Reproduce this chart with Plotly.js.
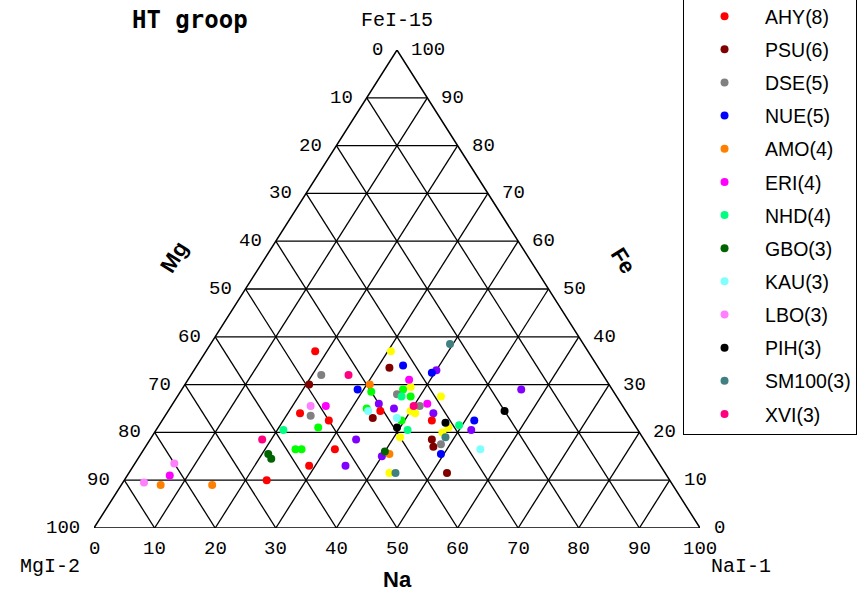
<!DOCTYPE html>
<html>
<head>
<meta charset="utf-8">
<script src="https://cdn.plot.ly/plotly-3.0.1.min.js"></script>
<style>
  html, body { margin: 0; padding: 0; background: #ffffff; }
  #chart { width: 865px; height: 592px; }
</style>
</head>
<body>
<div id="chart"></div>
<script>
// Sample compositions in percent, each pair is [Na, Fe]; Mg = 100 - Na - Fe.
const AHY   = [[18,37],[22,24],[27.5,22.5],[31.5,16.5],[29,13],[23.5,10],[35,24.5],[44.5,22.5]];
const PSU   = [[20.5,30],[32,33.5],[34.5,23],[46.5,18.5],[47.5,17],[52.5,11.5]];
const DSE   = [[21.5,32],[24,23.5],[36,28],[41,25.5],[48.5,17.5]];
const NUE   = [[34,34],[29,29],[39.5,32.5],[51.5,22.5],[49.5,15.5]];
const AMO   = [[30.5,30],[41,15.5],[6.5,9],[15,9]];
const ERI   = [[25.5,25.5],[36.5,31],[42,26],[7,11]];
const NHD   = [[21,20.5],[37,27.5],[41.5,20.5],[49.5,21.5]];
const GBO   = [[21,15.5],[22,14.5],[40,16]];
const KAU   = [[33,24.5],[38.5,23],[55.5,16.5]];
const LBO   = [[23,25.5],[6.5,13.5],[3.5,9.5]];
const PIH   = [[39.5,21],[47,22],[55.5,24.5]];
const SM100 = [[39.5,38.5],[48.5,19],[44,11.5]];
const XVI   = [[26,32],[18.5,18.5],[40,25.5]];
// further groups whose legend entries sit above the visible frame
const GRP_Y = [[30.5,37],[37.5,29.5],[40,24.5],[41,24],[43.5,27.5],[48,21],[47.5,20],[41,19],[43,11.5]];
const GRP_P = [[34,18.5],[35,13],[34,26],[37,25],[44,24],[40,33],[56,29],[52,20.5],[40,15]];
const GRP_G = [[26.5,21],[25,16.5],[26,16.5],[31.5,28.5],[32.5,25],[36.5,29],[38.5,27.5],[39.5,22.5]];

const legendNames = ['AHY(8)','PSU(6)','DSE(5)','NUE(5)','AMO(4)','ERI(4)','NHD(4)',
                     'GBO(3)','KAU(3)','LBO(3)','PIH(3)','SM100(3)','XVI(3)'];
const legendData  = [AHY, PSU, DSE, NUE, AMO, ERI, NHD, GBO, KAU, LBO, PIH, SM100, XVI];
const legendColors = ['#ff0000','#800000','#808080','#0000ff','#ff8000','#ff00ff','#00ff80',
                      '#006400','#80ffff','#ff80ff','#000000','#408080','#ff0080'];
const extraData   = [GRP_Y, GRP_P, GRP_G];
const extraColors = ['#ffff00','#8000ff','#00ff00'];

const TICKS = [0,10,20,30,40,50,60,70,80,90,100];
const GRID  = [10,20,30,40,50,60,70,80,90];

// Ternary (Na, Fe) -> plane coordinates: x runs along the Na base, y is the Fe height.
const px = (na, fe) => na + fe / 2;
const py = (na, fe) => fe;

const traces = [];

// Grid: lines of constant Fe, Na and Mg
const gx = [], gy = [];
GRID.forEach(v => {
  gx.push(px(0, v), px(100 - v, v), null); gy.push(py(0, v), py(100 - v, v), null);   // Fe = v
  gx.push(px(v, 0), px(v, 100 - v), null); gy.push(py(v, 0), py(v, 100 - v), null);   // Na = v
  const fe = 100 - v;                                                                  // Mg = v
  gx.push(px(0, fe), px(fe, 0), null);     gy.push(py(0, fe), py(fe, 0), null);
});
traces.push({x: gx, y: gy, mode: 'lines', line: {color: '#000', width: 1.3},
             showlegend: false, hoverinfo: 'skip', cliponaxis: false});
// Outline
traces.push({x: [px(0,0), px(100,0), px(0,100), px(0,0)],
             y: [py(0,0), py(100,0), py(0,100), py(0,0)],
             mode: 'lines', line: {color: '#000', width: 1.5},
             showlegend: false, hoverinfo: 'skip', cliponaxis: false});

const markerTrace = (pts, color, name, show, i) => ({
  x: pts.map(p => px(p[0], p[1])),
  y: pts.map(p => py(p[0], p[1])),
  mode: 'markers', type: 'scatter', name: name, showlegend: show,
  legendgroup: 'g' + i, cliponaxis: false,
  marker: {color: color, size: 8, line: {width: 0}}
});
extraData.forEach((d, i) => traces.push(markerTrace(d, extraColors[i], 'x' + i, false, 100 + i)));
legendData.forEach((d, i) => traces.push(markerTrace(d, legendColors[i], legendNames[i], true, i)));

const tickFont = {family: 'Liberation Mono, DejaVu Sans Mono, monospace', size: 19, color: '#000'};
const ann = [];
TICKS.forEach(v => {
  // Fe along the right side
  ann.push({x: px(100 - v, v), y: py(100 - v, v), xref: 'x', yref: 'y', text: String(v),
            showarrow: false, xanchor: 'left', yanchor: 'middle', xshift: 12, font: tickFont});
  // Mg along the left side
  ann.push({x: px(0, 100 - v), y: py(0, 100 - v), xref: 'x', yref: 'y', text: String(v),
            showarrow: false, xanchor: 'right', yanchor: 'middle', xshift: -12, font: tickFont});
  // Na along the base
  ann.push({x: px(v, 0), y: 0, xref: 'x', yref: 'y', text: String(v),
            showarrow: false, xanchor: 'center', yanchor: 'top', yshift: -8, font: tickFont});
});
const labelFont = {family: 'Liberation Mono, DejaVu Sans Mono, monospace', size: 20, color: '#000'};
ann.push({x: px(0, 100), y: 100, xref: 'x', yref: 'y', text: 'FeI-15', showarrow: false,
          xanchor: 'center', yanchor: 'middle', yshift: 30, font: labelFont});
ann.push({x: 0, y: 0, xref: 'x', yref: 'y', text: 'MgI-2', showarrow: false,
          xanchor: 'center', yanchor: 'middle', xshift: -44, yshift: -38, font: labelFont});
ann.push({x: 100, y: 0, xref: 'x', yref: 'y', text: 'NaI-1', showarrow: false,
          xanchor: 'center', yanchor: 'middle', xshift: 41, yshift: -38, font: labelFont});
ann.push({x: 50, y: 0, xref: 'x', yref: 'y', text: '<b>Na</b>', showarrow: false,
          xanchor: 'center', yanchor: 'middle', yshift: -51,
          font: {family: 'Liberation Sans, Arial, sans-serif', size: 22, color: '#000'}});
ann.push({x: px(0, 50), y: 50, xref: 'x', yref: 'y', text: '<b>Mg</b>', showarrow: false,
          xanchor: 'center', yanchor: 'middle', xshift: -72, yshift: 32, textangle: -58,
          font: {family: 'Liberation Sans, Arial, sans-serif', size: 22, color: '#000'}});
ann.push({x: px(50, 50), y: 50, xref: 'x', yref: 'y', text: '<b>Fe</b>', showarrow: false,
          xanchor: 'center', yanchor: 'middle', xshift: 75, yshift: 29, textangle: 58,
          font: {family: 'Liberation Sans, Arial, sans-serif', size: 22, color: '#000'}});
ann.push({x: 0.158, y: 1.063, xref: 'paper', yref: 'paper', text: '<b>HT groop</b>', showarrow: false,
          xanchor: 'center', yanchor: 'middle',
          font: {family: 'DejaVu Sans Mono, monospace', size: 24, color: '#000'}});

const layout = {
  width: 865, height: 592,
  margin: {l: 94, r: 165, t: 50, b: 64, autoexpand: false},
  paper_bgcolor: '#ffffff', plot_bgcolor: '#ffffff',
  xaxis: {range: [0, 100], visible: false, fixedrange: true},
  yaxis: {range: [0, 100], visible: false, fixedrange: true},
  showlegend: true,
  legend: {x: 0.972, xanchor: 'left', y: 0.1946, yanchor: 'bottom',
           bgcolor: '#ffffff', bordercolor: '#000', borderwidth: 1,
           tracegroupgap: 4.8, itemwidth: 71,
           font: {family: 'Liberation Sans, Arial, sans-serif', size: 19.5, color: '#000'}},
  annotations: ann
};

Plotly.newPlot('chart', traces, layout, {displayModeBar: false, staticPlot: true});
</script>
</body>
</html>
